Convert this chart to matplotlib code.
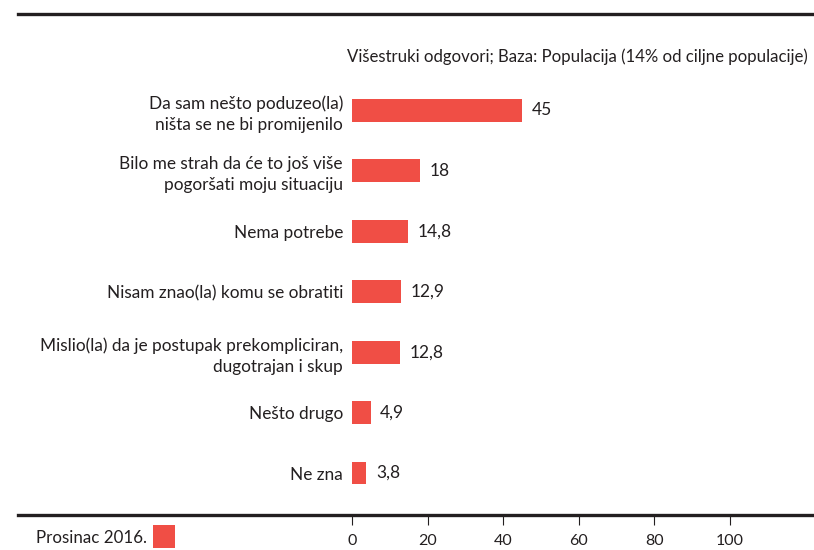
import matplotlib
matplotlib.use("Agg")
import matplotlib.pyplot as plt
from matplotlib.lines import Line2D
from matplotlib.patches import Rectangle

# Data
categories = [
    "Da sam nešto poduzeo(la)\nništa se ne bi promijenilo",
    "Bilo me strah da će to još više\npogoršati moju situaciju",
    "Nema potrebe",
    "Nisam znao(la) komu se obratiti",
    "Mislio(la) da je postupak prekompliciran,\ndugotrajan i skup",
    "Nešto drugo",
    "Ne zna",
]
values = [45, 18, 14.8, 12.9, 12.8, 4.9, 3.8]
value_labels = ["45", "18", "14,8", "12,9", "12,8", "4,9", "3,8"]
xticks = [0, 20, 40, 60, 80, 100]
subtitle = "Višestruki odgovori; Baza: Populacija (14% od ciljne populacije)"
legend_label = "Prosinac 2016."

BAR = "#f04e45"
INK = "#231f20"

plt.rcParams["font.family"] = ["Lato", "DejaVu Sans"]
plt.rcParams["font.size"] = 12

W, H = 814, 550
fig = plt.figure(figsize=(W / 100, H / 100), dpi=100)

# axes placed in pixel terms: x from 352 to 814, y from 14 to 515
ax = fig.add_axes([352 / W, (H - 515) / H, (W - 352) / W, (515 - 14) / H])
ax.set_xlim(0, (W - 352) / 3.78)
ax.set_ylim(6.695, -1.597)

pos = list(range(len(categories)))
ax.barh(pos, values, height=0.38, color=BAR, edgecolor="none")
for p, v, lab in zip(pos, values, value_labels):
    ax.annotate(lab, (v, p), xytext=(7, 0), textcoords="offset points",
                va="center", ha="left", color=INK, fontsize=12.5)

ax.set_yticks(pos)
ax.set_yticklabels(categories, color=INK, fontsize=12.4, linespacing=1.35)
ax.tick_params(axis="y", length=0, pad=6.5)

ax.set_xticks(xticks)
ax.set_xticklabels([str(t) for t in xticks], color=INK, fontsize=11.5)
ax.tick_params(axis="x", length=7.5, width=0.8, color=INK, pad=6, direction="out")

for s in ax.spines.values():
    s.set_visible(False)

# top and bottom rules across the figure
fig.add_artist(Line2D([18 / W, 1], [1 - 14 / H] * 2, color=INK, lw=2.4))
fig.add_artist(Line2D([18 / W, 1], [1 - 515 / H] * 2, color=INK, lw=2.4))

fig.text(808 / W, 1 - 57 / H, subtitle, ha="right", va="center", color=INK, fontsize=12.1)

# legend
fig.text(36 / W, 1 - 538 / H, legend_label, ha="left", va="center", color=INK, fontsize=12.2)
fig.add_artist(Rectangle((153 / W, 1 - 548 / H), 22 / W, 23 / H,
                         transform=fig.transFigure, color=BAR, lw=0))

fig.savefig("out.png", dpi=100)
